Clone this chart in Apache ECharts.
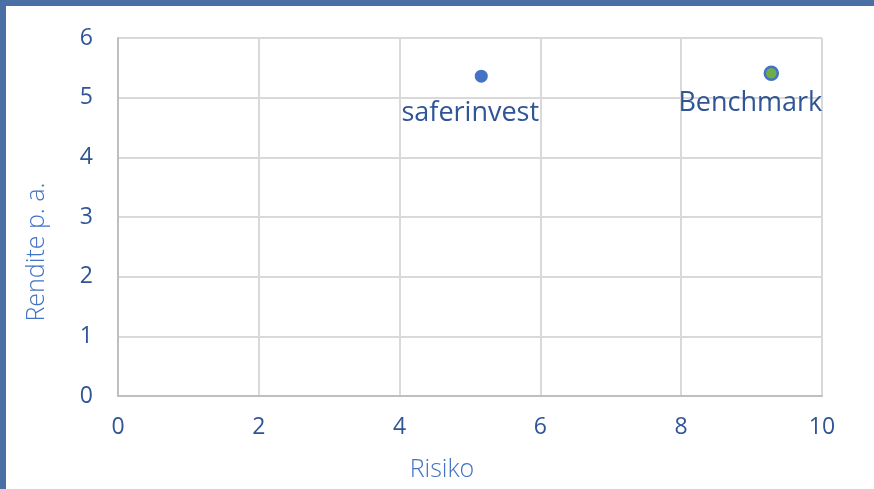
<!DOCTYPE html>
<html>
<head>
<meta charset="utf-8">
<script src="https://cdn.jsdelivr.net/npm/echarts@6/dist/echarts.min.js"></script>
<style>
  html, body { margin: 0; padding: 0; background: #fff; }
  #echarts { width: 874px; height: 489px; }
</style>
</head>
<body>
<div id="echarts"></div>
<script>
// Werte
let names = ['saferinvest', 'Benchmark'];
let risiko = [5.16, 9.28];
let rendite = [5.36, 5.41];
let xTicks = [0, 2, 4, 6, 8, 10];
let yTicks = [0, 1, 2, 3, 4, 5, 6];

let textBlue = '#2f5597';
let fontName = 'Open Sans';

let createEchart = function (id, option) {
    let chart = echarts.init(document.getElementById(id));
    chart.setOption(option);
    return chart;
}

let scatterOption = function () {
    let points = names.map((n, i) => {
        let isBench = i === 1;
        return {
            name: n,
            value: [risiko[i], rendite[i]],
            itemStyle: {
                color: isBench ? '#70ad47' : '#4472c4',
                borderColor: '#4472c4',
                borderWidth: isBench ? 2.5 : 0,
                opacity: 1
            },
            label: {
                offset: isBench ? [-21, 4] : [-11, 12]
            }
        };
    });

    return {
        animation: false,
        backgroundColor: '#fff',
        grid: { left: 118, right: 52, top: 38, bottom: 93 },
        xAxis: {
            type: 'value',
            min: xTicks[0],
            max: xTicks[xTicks.length - 1],
            interval: 2,
            axisLine: { show: true, lineStyle: { color: '#bfbfbf', width: 2 } },
            axisTick: { show: false },
            splitLine: { lineStyle: { color: '#d9d9d9', width: 2 } },
            axisLabel: { color: textBlue, fontSize: 23, fontFamily: fontName, margin: 20 }
        },
        yAxis: {
            type: 'value',
            min: yTicks[0],
            max: yTicks[yTicks.length - 1],
            interval: 1,
            axisLine: { show: true, lineStyle: { color: '#bfbfbf', width: 2 } },
            axisTick: { show: false },
            splitLine: { lineStyle: { color: '#d9d9d9', width: 2 } },
            axisLabel: { color: textBlue, fontSize: 23, fontFamily: fontName, margin: 25 }
        },
        series: [{
            type: 'scatter',
            symbolSize: 13,
            data: points,
            label: {
                show: true,
                position: 'bottom',
                formatter: '{b}',
                color: textBlue,
                fontSize: 27,
                fontFamily: fontName
            }
        }],
        graphic: [
            // Rahmen oben und links
            { type: 'rect', shape: { x: 0, y: 0, width: 874, height: 6 }, style: { fill: '#4a6fa5' }, z: 100 },
            { type: 'rect', shape: { x: 0, y: 0, width: 6, height: 489 }, style: { fill: '#4a6fa5' }, z: 100 },
            {
                type: 'text', x: 442, y: 470,
                style: { text: 'Risiko', fill: '#4472c4', font: '300 25px "Open Sans"', align: 'center', verticalAlign: 'middle' }
            },
            {
                type: 'text', x: 37, y: 252, rotation: Math.PI / 2,
                style: { text: 'Rendite p. a.', fill: '#4472c4', font: '300 25px "Open Sans"', align: 'center', verticalAlign: 'middle' }
            }
        ]
    };
}

window.onload = function () {
    createEchart('echarts', scatterOption());
}
</script>
</body>
</html>
